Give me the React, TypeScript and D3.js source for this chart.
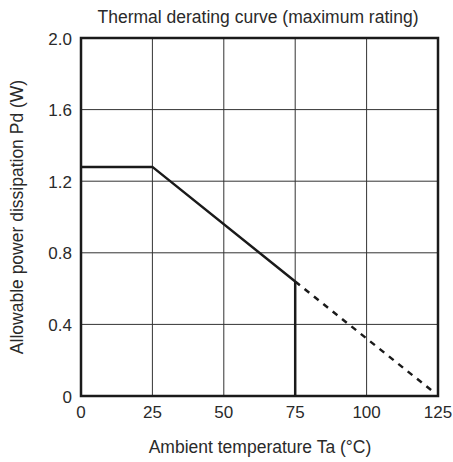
import React from "react";
import * as d3 from "d3";

const xTicks = [0, 25, 50, 75, 100, 125];
const yTicks = [0, 0.4, 0.8, 1.2, 1.6, 2.0];
const yTickLabels = ["0", "0.4", "0.8", "1.2", "1.6", "2.0"];

// rated curve (solid) and the extension beyond 75 °C (dashed)
const solidCurve = [
  { ta: 0, pd: 1.28 },
  { ta: 25, pd: 1.28 },
  { ta: 75, pd: 0.64 },
];
const dashedCurve = [
  { ta: 75, pd: 0.64 },
  { ta: 124, pd: 0.015 },
];
const cutoff = [
  { ta: 75, pd: 0.64 },
  { ta: 75, pd: 0 },
];

export default function App() {
  const width = 453, height = 462;
  const margin = { top: 38, right: 15, bottom: 66, left: 81 };
  const x = d3.scaleLinear().domain([0, 125]).range([margin.left, width - margin.right]);
  const y = d3.scaleLinear().domain([0, 2]).range([height - margin.bottom, margin.top]);

  const line = d3.line<{ ta: number; pd: number }>()
    .x(d => x(d.ta))
    .y(d => y(d.pd));

  const font = "'Liberation Sans', Arial, sans-serif";
  const txt = "#2a2a2a";

  return (
    <svg width={width} height={height} style={{ position: "absolute", left: 0, top: 0, background: "#fff" }}>
      <text x={258} y={23} textAnchor="middle" fontFamily={font} fontSize={17.5} fill={txt}>
        Thermal derating curve (maximum rating)
      </text>

      {/* grid */}
      {xTicks.slice(1, -1).map(t => (
        <line key={"gx" + t} x1={x(t)} x2={x(t)} y1={y(0)} y2={y(2)} stroke="#333" strokeWidth={1} />
      ))}
      {yTicks.slice(1, -1).map(t => (
        <line key={"gy" + t} x1={x(0)} x2={x(125)} y1={y(t)} y2={y(t)} stroke="#333" strokeWidth={1} />
      ))}

      <path d={line(solidCurve) || ""} fill="none" stroke="#1a1a1a" strokeWidth={2.5} />
      <path d={line(cutoff) || ""} fill="none" stroke="#1a1a1a" strokeWidth={2.5} />
      <path d={line(dashedCurve) || ""} fill="none" stroke="#1a1a1a" strokeWidth={2.5} strokeDasharray="6,6" />

      {/* frame */}
      <rect x={x(0)} y={y(2)} width={x(125) - x(0)} height={y(0) - y(2)} fill="none" stroke="#1a1a1a" strokeWidth={2.5} />

      {xTicks.map(t => (
        <text key={"xt" + t} x={x(t)} y={y(0) + 22} textAnchor="middle" fontFamily={font} fontSize={17} fill={txt}>
          {t}
        </text>
      ))}
      {yTicks.map((t, i) => (
        <text key={"yt" + t} x={x(0) - 9} y={y(t) + 6.5} textAnchor="end" fontFamily={font} fontSize={17} fill={txt}>
          {yTickLabels[i]}
        </text>
      ))}

      <text x={260} y={453} textAnchor="middle" fontFamily={font} fontSize={17.5} fill={txt}>
        Ambient temperature Ta (°C)
      </text>
      <text transform={`translate(23, ${(y(0) + y(2)) / 2}) rotate(-90)`} textAnchor="middle" fontFamily={font} fontSize={17.5} fill={txt}>
        Allowable power dissipation Pd (W)
      </text>
    </svg>
  );
}
